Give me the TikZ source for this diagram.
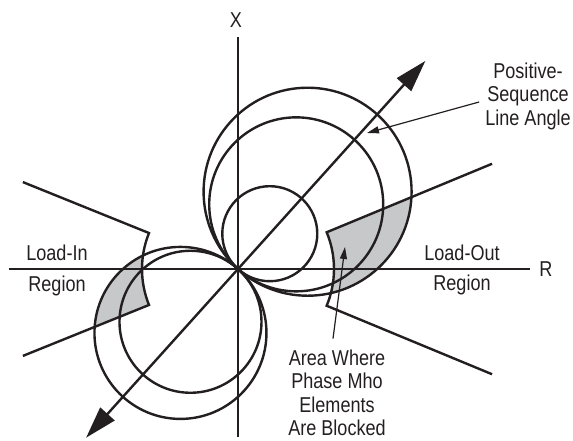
\documentclass[tikz,border=0pt]{standalone}
\usepackage{fontspec}
\setmainfont[FakeStretch=0.84]{Liberation Sans}
\usetikzlibrary{arrows.meta}
\definecolor{ink}{HTML}{231F20}
\definecolor{blockgray}{HTML}{C7C8CA}

\begin{document}
\begin{tikzpicture}[x=1pt, y=1pt, line width=2.4pt, color=ink,
  lbl/.style={text=ink, inner sep=0pt, align=center, font=\fontsize{21.5pt}{23.5pt}\selectfont},
  leader/.style={line width=1.2pt, -{Triangle[length=12pt,width=7pt]}},
  bigtip/.style={{Triangle[length=32pt,width=19pt]}-{Triangle[length=32pt,width=19pt]}}]
\useasboundingbox (-238,-171) rectangle (335,269);
% blocked areas (mho circle inside the load regions)
\begin{scope}
\clip (48:104) circle[radius=104];
\fill[blockgray] (22.5:96) -- (22.5:300) -- (-22.5:300) -- (-22.5:96)
  arc[start angle=-22.5, end angle=22.5, radius=96] -- cycle;
\end{scope}
\begin{scope}
\clip (228:86) circle[radius=86];
\fill[blockgray] (158:96) -- (158:300) -- (202:300) -- (202:96)
  arc[start angle=202, end angle=158, radius=96] -- cycle;
\end{scope}
% axes
\node[lbl] (xlabel) at (-2,249) {X};
\node[lbl] (rlabel) at (308,0) {R};
\draw (0,-168) -- (0,232);
\draw (-229,0) -- (292,0);
% mho circles
\foreach \d in {104,87,47.5}
  \draw (48:\d) circle[radius=\d];
\foreach \d in {86,71}
  \draw (228:\d) circle[radius=\d];
% load encroachment
\draw (22.5:275) -- (22.5:96) arc[start angle=22.5, end angle=-22.5, radius=96] -- (-22.5:275);
\draw (158:232) -- (158:96) arc[start angle=158, end angle=202, radius=96] -- (202:232);
% line angle
\draw[bigtip] (228:227) -- (48:280);
% labels
\node[lbl] (loadin) at (-181,16) {Load-In};
\node[lbl] (inregion) at (-181,-17) {Region};
\node[lbl] (loadout) at (224,16) {Load-Out};
\node[lbl] (outregion) at (224,-16) {Region};
\node[lbl] (anglenote) at (290,173) {Positive-\\Sequence\\Line Angle};
\node[lbl] (areanote) at (99,-124) {Area Where\\Phase Mho\\Elements\\Are Blocked};
\coordinate (angletip) at (129,136);
\coordinate (blocktip) at (107,22);
\draw[leader] ([shift={(-5,-6)}]anglenote.west) -- (angletip);
\draw[leader] ([shift={(-4,10)}]areanote.north) -- (blocktip);
\end{tikzpicture}
\end{document}
